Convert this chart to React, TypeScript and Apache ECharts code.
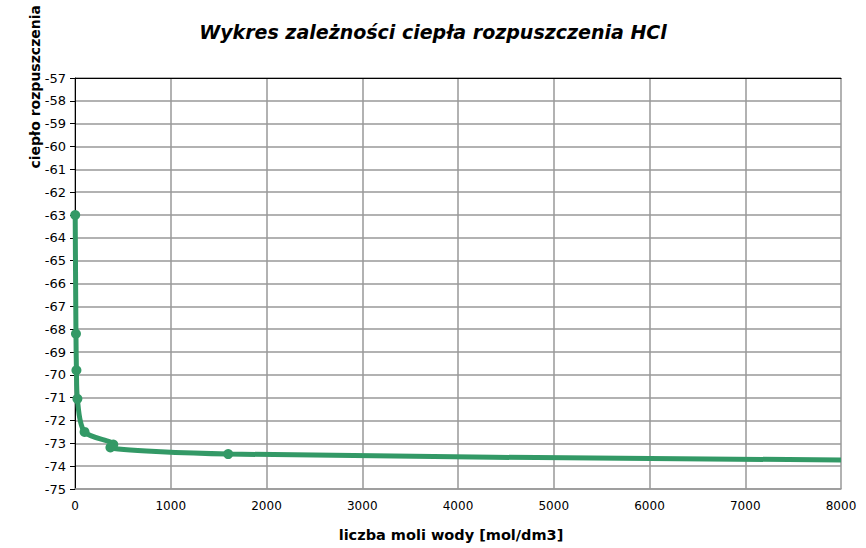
import React, { useEffect, useRef } from "react";
import * as echarts from "echarts";

const titleText = "Wykres zależności ciepła rozpuszczenia HCl";
const xName = "liczba moli wody [mol/dm3]";
const yName = "ciepło rozpuszczenia";

const molesWater = [2, 10, 15, 25, 100, 400, 370, 1600, 8000];
const heatValues = [-63.0, -68.2, -69.8, -71.05, -72.5, -73.05, -73.18, -73.47, -73.73];
const showMarker = [true, true, true, true, true, true, true, true, false];

const FONT = "DejaVu Sans";
const GREEN = "#339966";

export default function App() {
  const ref = useRef<HTMLDivElement>(null);
  useEffect(() => {
    if (!ref.current) return;
    const chart = echarts.init(ref.current, null, { renderer: "svg" });
    const data = molesWater.map((x, i) => ({
      value: [x, heatValues[i]],
      symbol: showMarker[i] ? "circle" : "none",
    }));
    chart.setOption({
      animation: false,
      backgroundColor: "#ffffff",
      title: {
        text: titleText,
        left: "center",
        top: 17,
        textStyle: {
          fontFamily: FONT,
          fontSize: 19,
          fontWeight: "bold",
          fontStyle: "italic",
          color: "#000",
        },
      },
      grid: { left: 75, right: 25, top: 78, bottom: 59, containLabel: false },
      xAxis: [
        {
          type: "value",
          min: 0,
          max: 8000,
          interval: 1000,
          axisLine: { show: true, lineStyle: { color: "#999", width: 1.5 } },
          axisTick: { show: false },
          axisLabel: {
            fontFamily: FONT,
            fontSize: 12,
            color: "#000",
            margin: 11,
            formatter: (v: number) => String(v),
          },
          splitLine: { show: true, lineStyle: { color: "#999", width: 1.5 } },
        },
        {
          type: "value",
          position: "top",
          min: 0,
          max: 8000,
          axisLine: { show: true, onZero: false, lineStyle: { color: "#000", width: 1 } },
          axisTick: { show: false },
          axisLabel: { show: false },
          splitLine: { show: false },
        },
      ],
      yAxis: {
        type: "value",
        min: -75,
        max: -57,
        interval: 1,
        axisLine: { show: true, onZero: false, lineStyle: { color: "#000", width: 1 } },
        axisTick: { show: true, length: 5, lineStyle: { color: "#000" } },
        axisLabel: { fontFamily: FONT, fontSize: 13, color: "#000", margin: 9 },
        splitLine: { show: true, lineStyle: { color: "#999", width: 1.5 } },
      },
      graphic: [
        {
          type: "text",
          x: 35,
          y: 5,
          rotation: Math.PI / 2,
          style: {
            text: yName,
            fontFamily: FONT,
            fontSize: 14,
            fontWeight: "bold",
            fill: "#000",
            align: "right",
            verticalAlign: "middle",
          },
        },
        {
          type: "text",
          x: 451,
          y: 535,
          style: {
            text: xName,
            fontFamily: FONT,
            fontSize: 14.5,
            fontWeight: "bold",
            fill: "#000",
            align: "center",
            verticalAlign: "middle",
          },
        },
      ],
      series: [
        {
          type: "line",
          xAxisIndex: 0,
          data,
          smooth: 0.3,
          symbolSize: 10,
          lineStyle: { color: GREEN, width: 5 },
          itemStyle: { color: GREEN },
          clip: true,
        },
      ],
    });
    return () => chart.dispose();
  }, []);
  return (
    <div
      ref={ref}
      style={{ position: "fixed", left: 0, top: 0, width: 866, height: 548 }}
    />
  );
}
